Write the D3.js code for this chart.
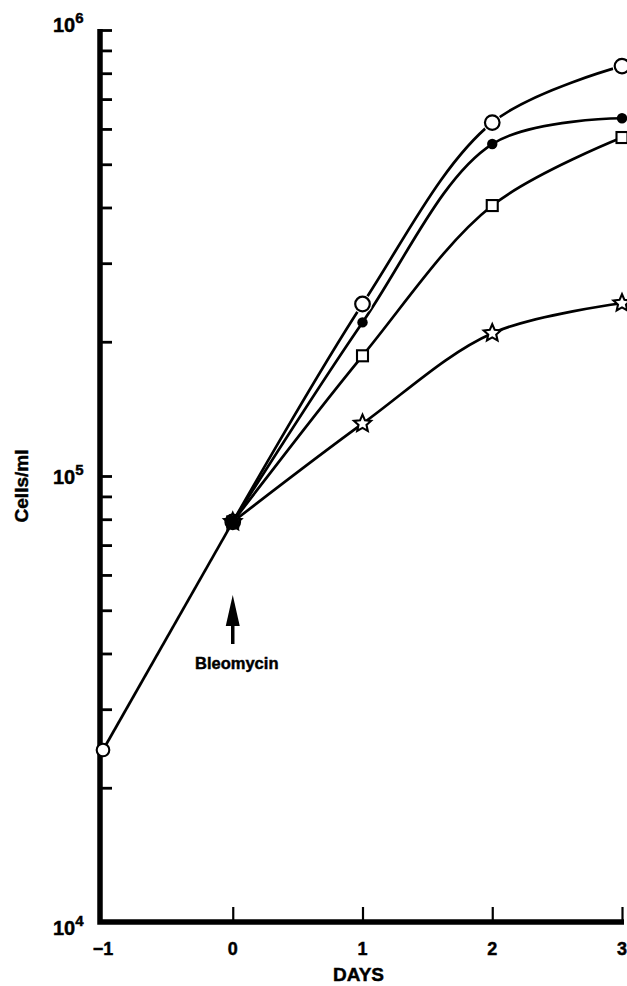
<!DOCTYPE html>
<html>
<head>
<meta charset="utf-8">
<script src="https://cdn.jsdelivr.net/npm/d3@7"></script>
<style>
  html, body { margin: 0; padding: 0; background: #fff; }
  svg { display: block; }
  text { font-family: "Liberation Sans", Arial, Helvetica, sans-serif; font-weight: bold; fill: #000; stroke: #000; stroke-width: 0.45px; }
</style>
</head>
<body>
<svg id="chart" width="627" height="986"></svg>
<script>
// Growth of cultures before and after bleomycin (added at day 0)
const preDays = [-1, 0];
const preCells = [24300, 78900];

const days = [0, 1, 2, 3];
const openCircle = [78900, 243000, 620000, 830000];
const filledCircle = [78900, 221000, 555000, 634000];
const openSquare = [78900, 186000, 404000, 574000];
const openStar = [78900, 131000, 209000, 244000];

const xTicks = [-1, 0, 1, 2, 3];
const xTickLabels = ["\u22121", "0", "1", "2", "3"];
const decades = [1e4, 1e5, 1e6];
const decadeExponents = ["4", "5", "6"];

const svg = d3.select("#chart");

const x = d3.scaleLinear().domain([-1, 3]).range([103, 622]);
const y = d3.scaleLog().domain([1e4, 1e6]).range([922, 30]);

const axisX = x.range()[0] - 3;   // vertical axis sits at the left edge
const axisY = y.range()[0];

// minor ticks 2..9 within each decade, plus the 10^5 and 10^6 marks
const minorTicks = [];
[1e4, 1e5].forEach(d => { for (let k = 2; k <= 9; k++) minorTicks.push(d * k); });
minorTicks.push(1e5, 1e6);

// y-axis ticks (pointing inward)
const yAxis = d3.axisRight(y).tickValues(minorTicks).tickSize(12).tickSizeOuter(0).tickFormat("");
const gy = svg.append("g").attr("transform", `translate(${axisX},0)`).call(yAxis);
gy.select(".domain").remove();
gy.selectAll(".tick line").attr("stroke", "#000").attr("stroke-width", 2.8);

// x-axis ticks (pointing up)
const xAxis = d3.axisTop(x).tickValues(xTicks.slice(1)).tickSize(15).tickSizeOuter(0).tickFormat("");
const gx = svg.append("g").attr("transform", `translate(0,${axisY})`).call(xAxis);
gx.select(".domain").remove();
gx.selectAll(".tick line").attr("stroke", "#000").attr("stroke-width", 2.2);

// axis frame
svg.append("path")
  .attr("d", `M${axisX},${y.range()[1] - 1}V${axisY}H${x.range()[1] + 2}`)
  .attr("fill", "none").attr("stroke", "#000").attr("stroke-width", 5.5)
  .attr("stroke-linejoin", "miter");

// y decade labels
const yl = svg.append("g");
decades.forEach((d, i) => {
  const py = y(d);
  const shift = 2 + (py - y.range()[1]) / (y.range()[0] - y.range()[1]) * 11;
  const t = yl.append("text").attr("x", axisX - 47).attr("y", py + shift).attr("font-size", 20);
  t.append("tspan").text("10");
  t.append("tspan").attr("dy", -9).attr("font-size", 15).text(decadeExponents[i]);
});

// x tick labels
xTicks.forEach((d, i) => {
  svg.append("text").attr("x", x(d)).attr("y", 955).attr("text-anchor", "middle")
    .attr("font-size", 18).text(xTickLabels[i]);
});

svg.append("text").attr("x", x(1) - 4).attr("y", 981).attr("text-anchor", "middle")
  .attr("font-size", 19).text("DAYS");

svg.append("text").attr("transform", `translate(28,486) rotate(-90)`)
  .attr("text-anchor", "middle").attr("font-size", 19).text("Cells/ml");

// growth curves
const lineStraight = d3.line().x(d => x(d[0])).y(d => y(d[1]));
const lineSmooth = d3.line().x(d => x(d[0])).y(d => y(d[1])).curve(d3.curveCatmullRom.alpha(0.5));

const lines = svg.append("g").attr("fill", "none").attr("stroke", "#000").attr("stroke-width", 2.7);
lines.append("path").attr("d", lineStraight(d3.zip(preDays, preCells)));
[openStar, openSquare, filledCircle, openCircle].forEach(s => {
  lines.append("path").attr("d", lineSmooth(d3.zip(days, s)));
});

// markers
const mk = svg.append("g");
function starPath(cx, cy, ro, ri) {
  const pts = [];
  for (let i = 0; i < 10; i++) {
    const a = -Math.PI / 2 + i * Math.PI / 5;
    const r = i % 2 === 0 ? ro : ri;
    pts.push([cx + r * Math.cos(a), cy + r * Math.sin(a)]);
  }
  return "M" + pts.map(p => p.join(",")).join("L") + "Z";
}

days.forEach((d, i) => {
  if (i > 0) {
    mk.append("circle").attr("cx", x(d)).attr("cy", y(openCircle[i])).attr("r", 9.5)
      .attr("fill", "#fff").attr("stroke", "none");
  }
  mk.append("circle").attr("cx", x(d)).attr("cy", y(openCircle[i])).attr("r", 7.3)
    .attr("fill", "#fff").attr("stroke", "#000").attr("stroke-width", 2.2);
});
days.forEach((d, i) => {
  mk.append("rect").attr("x", x(d) - 5.5).attr("y", y(openSquare[i]) - 5.5)
    .attr("width", 11).attr("height", 11)
    .attr("fill", "#fff").attr("stroke", "#000").attr("stroke-width", 2.1);
});
days.forEach((d, i) => {
  mk.append("path").attr("d", starPath(x(d), y(openStar[i]), 9, 4.2))
    .attr("fill", "#fff").attr("stroke", "#000").attr("stroke-width", 2.1).attr("stroke-linejoin", "miter");
});
days.forEach((d, i) => {
  mk.append("circle").attr("cx", x(d)).attr("cy", y(filledCircle[i])).attr("r", i === 0 ? 6.5 : 5.2)
    .attr("fill", "#000");
});
mk.append("circle").attr("cx", x(preDays[0])).attr("cy", y(preCells[0])).attr("r", 6.3)
  .attr("fill", "#fff").attr("stroke", "#000").attr("stroke-width", 2.1);

// bleomycin addition arrow
const ax = x(0);
svg.append("line").attr("x1", ax).attr("x2", ax).attr("y1", 644).attr("y2", 618)
  .attr("stroke", "#000").attr("stroke-width", 3.5);
svg.append("path").attr("d", `M${ax},595L${ax - 7},626L${ax + 7},626Z`).attr("fill", "#000");
svg.append("text").attr("x", ax + 4).attr("y", 669).attr("text-anchor", "middle")
  .attr("font-size", 16.5).text("Bleomycin");
</script>
</body>
</html>
